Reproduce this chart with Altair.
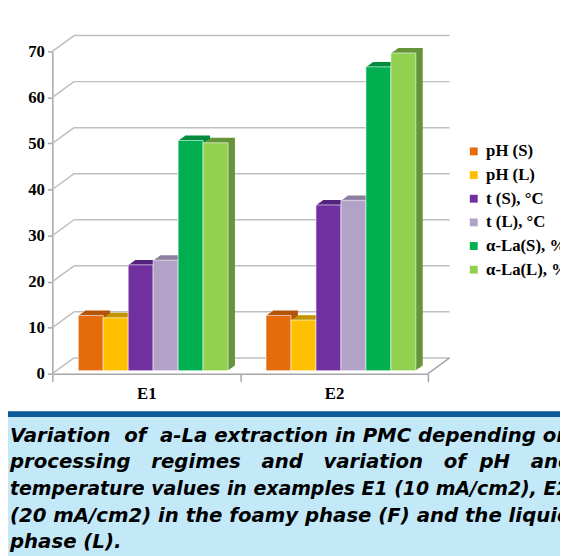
import altair as alt
import pandas as pd

groups = ["E1", "E2"]
series = ["pH (S)", "pH (L)", "t (S), °C", "t (L), °C", "α-La(S), %", "α-La(L), %"]
values_e1 = [12, 11.5, 23, 24, 50, 49.5]
values_e2 = [12, 11, 36, 37, 66, 69]
front_colors = ["#E46C0A", "#FFC000", "#7030A0", "#B3A2C7", "#00B050", "#92D050"]
top_colors = ["#B4550A", "#C49400", "#55237E", "#8C7FA0", "#008C3E", "#66953A"]
y_ticks = [0, 10, 20, 30, 40, 50, 60, 70]
NB = "\u00a0"
caption_lines = [
    "Variation" + NB + " of" + NB + " a-La extraction in PMC depending on",
    (NB * 3).join(["processing", "regimes", "and", "variation", "of"]) + NB * 2 + "pH" + NB * 3 + "and",
    "temperature values in examples E1 (10 mA/cm2), E2",
    "(20 mA/cm2) in the foamy phase (F) and the liquid",
    "phase (L).",
]
caption_sizes = [20, 20, 19.2, 20, 20]

rows = []
for g, vals in zip(groups, [values_e1, values_e2]):
    for s, v, d in zip(series, vals, top_colors):
        rows.append({"group": g, "series": s, "value": v, "dark": d})
df = pd.DataFrame(rows)
ticks_df = pd.DataFrame({"tick": y_ticks})
one = pd.DataFrame({"a": [0]})

W, H = 381, 327
DX, DY = 22, -16      # wall depth
BDX, BDY = 7, -5      # bar depth
FX, FY = 7, -3        # bar front-face offset
GRID = "#BFBFBF"
AX = "#A6A6A6"
BAR_START, BAR_SPAN = 19.25, 152

y_scale = alt.Scale(domain=[0, 70], nice=False, zero=True)
x_scale = alt.Scale(domain=groups, paddingInner=0, paddingOuter=0)


def xo_scale(shift):
    return alt.Scale(domain=series, paddingInner=0, paddingOuter=0,
                     range=[BAR_START + shift, BAR_START + BAR_SPAN + shift])


y_axis = alt.Axis(title=None, values=y_ticks, labelFont="Liberation Serif", labelFontWeight="bold",
                  labelFontSize=17, labelColor="black", tickSize=5, labelPadding=3, grid=False,
                  domainColor=AX, tickColor=AX, domainWidth=1.5, tickWidth=1.5)
x_axis = alt.Axis(title=None, labelFont="Liberation Serif", labelFontWeight="bold", labelFontSize=17,
                  labelColor="black", domainColor=AX, tickColor=AX, tickSize=8, tickBand="extent",
                  labelPadding=4, labelAngle=0, domainWidth=1.5, tickWidth=1.5)

band = alt.Chart(one).mark_rect(color="#0B5A96").encode(
    x=alt.value(-45), x2=alt.value(520), y=alt.value(365), y2=alt.value(371))
caption_bg = alt.Chart(one).mark_rect(color="#C3E9F9").encode(
    x=alt.value(-45), x2=alt.value(520), y=alt.value(371), y2=alt.value(515))

grid = alt.Chart(ticks_df).mark_rule(color=GRID, strokeWidth=1.5, yOffset=DY).encode(
    x=alt.value(DX), x2=alt.value(W + DX), y=alt.Y("tick:Q", scale=y_scale, axis=y_axis))
diag = alt.Chart(ticks_df).mark_rule(color=GRID, strokeWidth=1.5, y2Offset=DY).encode(
    x=alt.value(0), x2=alt.value(DX), y=alt.Y("tick:Q", scale=y_scale, axis=y_axis), y2="tick:Q")
floor = alt.Chart(ticks_df).transform_filter("datum.tick == 0").mark_rule(
    color=AX, strokeWidth=1.5, y2Offset=DY).encode(
    x=alt.value(W), x2=alt.value(W + DX), y=alt.Y("tick:Q", scale=y_scale, axis=y_axis), y2="tick:Q")

layers = [band, caption_bg, grid, diag, floor]
steps = 7
for k in range(steps, 0, -1):
    f = k / steps
    ox = FX + BDX * f
    oy = FY + BDY * f
    layers.append(
        alt.Chart(df).mark_bar(yOffset=oy, y2Offset=oy).encode(
            x=alt.X("group:N", scale=x_scale, axis=x_axis),
            xOffset=alt.XOffset("series:N", scale=xo_scale(ox)),
            y=alt.Y("value:Q", scale=y_scale, axis=y_axis),
            color=alt.Color("dark:N", scale=None),
        )
    )

front = alt.Chart(df).mark_bar(yOffset=FY, y2Offset=FY,
                               stroke="white", strokeWidth=1, strokeOpacity=0.6).encode(
    x=alt.X("group:N", scale=x_scale, axis=x_axis),
    xOffset=alt.XOffset("series:N", scale=xo_scale(FX)),
    y=alt.Y("value:Q", scale=y_scale, axis=y_axis),
    color=alt.Color("series:N", scale=alt.Scale(domain=series, range=front_colors),
                    legend=alt.Legend(title=None, orient="none", legendX=419, legendY=93,
                                      symbolType="square", symbolSize=64, symbolStrokeWidth=0,
                                      labelFont="Liberation Serif", labelFontWeight="bold",
                                      labelFontSize=17, labelColor="black", rowPadding=6,
                                      labelOffset=4, labelLimit=300)),
)
layers.append(front)

for i, (line, size) in enumerate(zip(caption_lines, caption_sizes)):
    layers.append(
        alt.Chart(one).mark_text(text=line, font="DejaVu Sans", fontSize=size,
                                 fontStyle="italic", fontWeight="bold", align="left",
                                 baseline="alphabetic", color="black").encode(
            x=alt.value(-43), y=alt.value(396 + 27 * i))
    )

chart = alt.layer(*layers).resolve_scale(xOffset="independent").properties(
    width=W, height=H,
    padding={"left": 45, "top": 40, "right": 134, "bottom": 181},
    autosize=alt.AutoSizeParams(type="none"),
    background="white",
).configure_view(stroke=None)

chart.save("out.html", embed_options={"renderer": "svg", "actions": False})
